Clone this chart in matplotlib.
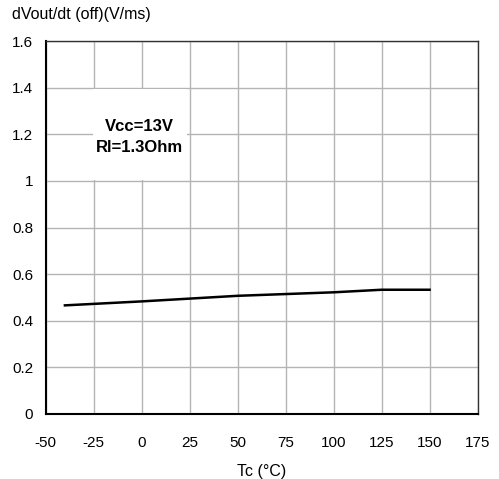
import matplotlib
matplotlib.use("Agg")
import matplotlib.pyplot as plt
from matplotlib.patches import Rectangle

plt.rcParams['font.family'] = ['Liberation Sans', 'DejaVu Sans']
plt.rcParams['axes.unicode_minus'] = False

tc = [-40, 0, 25, 50, 100, 125, 150]
dvdt = [0.466, 0.483, 0.495, 0.507, 0.522, 0.533, 0.533]
x_ticks = [-50, -25, 0, 25, 50, 75, 100, 125, 150, 175]
y_ticks = [0, 0.2, 0.4, 0.6, 0.8, 1.0, 1.2, 1.4, 1.6]
y_labels = ['0', '0.2', '0.4', '0.6', '0.8', '1', '1.2', '1.4', '1.6']

fig = plt.figure(figsize=(4.99, 4.79), dpi=100)
ax = fig.add_axes([0.0916, 0.1357, 0.957 - 0.0916, 0.9144 - 0.1357])
ax.set_xlim(-50, 175)
ax.set_ylim(0, 1.6)
ax.set_xticks(x_ticks)
ax.set_yticks(y_ticks)
ax.set_yticklabels(y_labels)
ax.tick_params(length=0, labelsize=11, colors='black')
ax.tick_params(axis='y', pad=9)
ax.tick_params(axis='x', pad=16)
ax.grid(True, color='#b4b4b4', linewidth=1.0)
ax.set_axisbelow(True)
for s in ax.spines.values():
    s.set_color('#333333')
    s.set_linewidth(1.0)
ax.spines['left'].set_color('black')
ax.spines['bottom'].set_color('black')
ax.spines['left'].set_linewidth(1.5)
ax.spines['bottom'].set_linewidth(1.5)

ax.plot(tc, dvdt, color='black', linewidth=1.8, zorder=4)

ax.add_patch(Rectangle((-25.4, 1.004), 49.0, 0.39, facecolor='white',
                       edgecolor='none', zorder=2))
ax.text(-1, 1.19, 'Vcc=13V\nRl=1.3Ohm', ha='center', va='center',
        fontsize=12, fontweight='bold', linespacing=1.5, zorder=3)

ax.set_xlabel('Tc (°C)', fontsize=11.5, labelpad=10)
fig.text(12 / 499, 1 - 15 / 479, 'dVout/dt (off)(V/ms)', fontsize=11.5,
         ha='left', va='center')

fig.savefig('out.png', dpi=100)
